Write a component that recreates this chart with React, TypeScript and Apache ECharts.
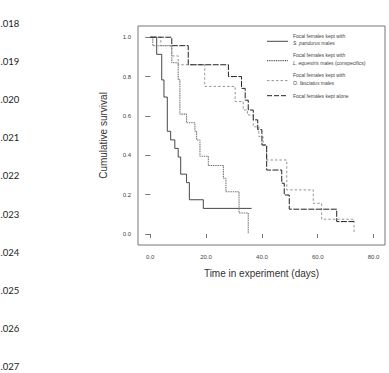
import React, { useEffect, useRef } from "react";
import * as echarts from "echarts";

// Kaplan–Meier step data: [day, survival] at each drop (step: 'end')
const daysPandurus = [0, 2.3, 4.1, 4.9, 6.1, 7.3, 8.8, 10.0, 10.9, 13.0, 14.0, 19.0, 36.3];
const survPandurus = [1, 0.913, 0.783, 0.696, 0.522, 0.478, 0.435, 0.391, 0.304, 0.261, 0.174, 0.13, 0.13];

const daysEquestris = [0, 0.9, 7.7, 10.0, 10.6, 13.0, 16.0, 16.6, 17.8, 20.8, 26.2, 27.1, 31.8, 35.1];
const survEquestris = [1, 0.957, 0.87, 0.783, 0.609, 0.565, 0.522, 0.478, 0.395, 0.348, 0.283, 0.215, 0.107, 0];

const daysFasciatus = [0, 3.8, 7.7, 10.0, 19.5, 30.4, 33.3, 34.8, 36.9, 38.9, 40.4, 41.7, 48.9, 58.4, 61.4, 73.0];
const survFasciatus = [1, 0.957, 0.905, 0.86, 0.75, 0.673, 0.63, 0.605, 0.545, 0.495, 0.452, 0.376, 0.224, 0.156, 0.075, 0];

const daysAlone = [0, 7.7, 13.6, 28.0, 32.7, 34.0, 35.1, 36.9, 38.5, 40.0, 41.7, 47.1, 48.0, 49.8, 66.8, 73.0];
const survAlone = [1, 0.957, 0.86, 0.8, 0.74, 0.68, 0.63, 0.58, 0.53, 0.452, 0.325, 0.258, 0.198, 0.126, 0.063, 0.063];

const xTicks = [0, 20, 40, 60, 80];
const yTicks = [0, 0.2, 0.4, 0.6, 0.8, 1.0];
const lineNumbers = [".018", ".019", ".020", ".021", ".022", ".023", ".024", ".025", ".026", ".027"];

const legendItems = [
  { first: "Focal females kept with", species: "S. pandurus", rest: " males", dash: "solid" as any, color: "#333", width: 0.9 },
  { first: "Focal females kept with", species: "L. equestris", rest: " males (conspecifics)", dash: [1, 0.8], color: "#555", width: 1.3 },
  { first: "Focal females kept with", species: "O. fasciatus", rest: " males", dash: [2.5, 2], color: "#888", width: 0.9 },
  { first: "Focal females kept alone", species: "", rest: "", dash: [5, 2], color: "#222", width: 1 },
];

const zip = (a: number[], b: number[]) => a.map((v, i) => [v, b[i]]);

export default function App() {
  const ref = useRef<HTMLDivElement>(null);
  useEffect(() => {
    if (!ref.current) return;
    const chart = echarts.init(ref.current, undefined, { renderer: "svg" });
    const font = "Liberation Sans";
    const graphics: any[] = [];
    lineNumbers.forEach((t, i) => {
      graphics.push({
        type: "text",
        x: 0.5,
        y: 23.3 + 38.15 * i,
        style: { text: t, font: "9.5px Lato", fill: "#222", verticalAlign: "middle", align: "left" },
      });
    });
    const lx0 = 267, lx1 = 288, tx = 293;
    const entryTop = [35.7, 55, 75, 95.7];
    legendItems.forEach((it, i) => {
      const y0 = entryTop[i];
      const twoLine = it.species !== "";
      const ly = twoLine ? y0 + 5.6 : y0;
      graphics.push({
        type: "line",
        shape: { x1: lx0, y1: ly, x2: lx1, y2: ly },
        style: { stroke: it.color, lineWidth: it.width, lineDash: it.dash === "solid" ? null : it.dash },
      });
      graphics.push({
        type: "text",
        x: tx,
        y: y0,
        style: { text: it.first, font: `5px ${font}`, fill: "#444", verticalAlign: "middle" },
      });
      if (twoLine) {
        graphics.push({
          type: "text",
          x: tx,
          y: y0 + 7.5,
          style: {
            text: `{i|${it.species}}{n|${it.rest}}`,
            verticalAlign: "middle",
            rich: {
              i: { font: `italic 5px ${font}`, fill: "#444" },
              n: { font: `5px ${font}`, fill: "#444" },
            },
          },
        });
      }
    });

    const mk = (name: string, d: number[][], color: string, width: number, type: any) => ({
      name,
      type: "line",
      step: "end",
      data: d,
      symbol: "none",
      lineStyle: { color, width, type },
      z: 3,
    });

    chart.setOption({
      animation: false,
      grid: { left: 138, top: 26, width: 247, height: 219, show: true, borderColor: "#777", borderWidth: 1, backgroundColor: "transparent" },
      xAxis: {
        type: "value",
        min: -4.4,
        max: 84.1,
        name: "Time in experiment (days)",
        nameLocation: "middle",
        nameGap: 23,
        nameTextStyle: { fontFamily: font, fontSize: 10, color: "#333" },
        axisLine: { show: false },
        splitLine: { show: false },
        axisTick: { show: true, customValues: xTicks, length: 4, lineStyle: { color: "#777" } },
        axisLabel: { customValues: xTicks, formatter: (v: number) => v.toFixed(1), fontFamily: font, fontSize: 6, color: "#444", margin: 9 },
      },
      yAxis: {
        type: "value",
        min: -0.056,
        max: 1.057,
        name: "Cumulative survival",
        nameLocation: "middle",
        nameGap: 30,
        nameTextStyle: { fontFamily: font, fontSize: 10, color: "#333" },
        axisLine: { show: false },
        splitLine: { show: false },
        axisTick: { show: true, customValues: yTicks, length: 5, lineStyle: { color: "#777" } },
        axisLabel: { customValues: yTicks, formatter: (v: number) => v.toFixed(1), fontFamily: font, fontSize: 6, color: "#444", margin: 7 },
      },
      series: [
        mk("S. pandurus", zip(daysPandurus, survPandurus), "#333", 0.9, "solid"),
        mk("L. equestris", zip(daysEquestris, survEquestris), "#777", 1.1, [1.5, 0.8]),
        mk("O. fasciatus", zip(daysFasciatus, survFasciatus), "#888", 0.9, [2.5, 2]),
        mk("alone", zip(daysAlone, survAlone), "#222", 1, [6, 1.5]),
      ],
      graphic: graphics,
    });
    return () => chart.dispose();
  }, []);
  return <div ref={ref} style={{ position: "absolute", left: 0, top: 0, width: 389, height: 373, background: "#fff" }} />;
}
